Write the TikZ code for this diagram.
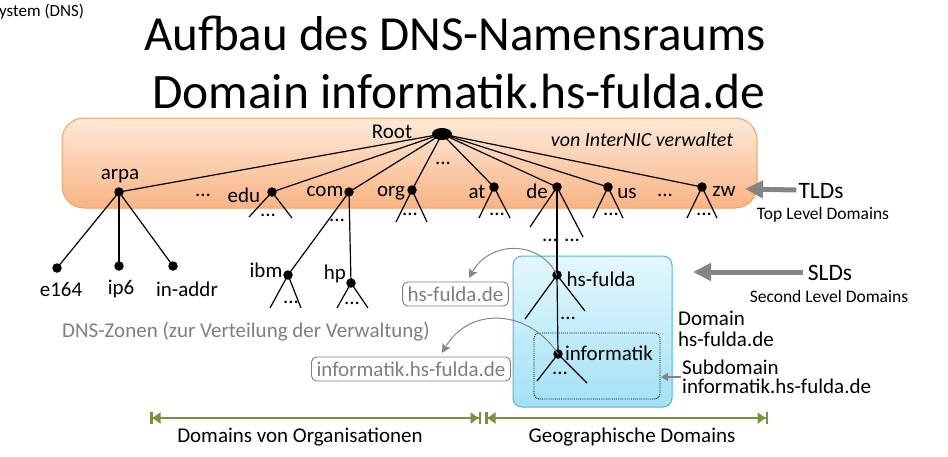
\documentclass[tikz,border=0pt]{standalone}
\usepackage{fontspec}
\setmainfont{Carlito}
\usetikzlibrary{arrows.meta,shapes.geometric}
\definecolor{zoneTop}{HTML}{FDE9D9}
\definecolor{zoneBot}{HTML}{F9B484}
\definecolor{zoneLine}{HTML}{F5A25E}
\definecolor{sldTop}{HTML}{E4F7FD}
\definecolor{sldBot}{HTML}{A2E1F5}
\definecolor{sldLine}{HTML}{4FB8D8}
\definecolor{grayTxt}{HTML}{7F7F7F}
\definecolor{arrGray}{HTML}{858585}
\definecolor{olive}{HTML}{77933C}
\begin{document}
\begin{tikzpicture}[x=1pt,y=-1pt,
  dot/.style={circle,fill=black,inner sep=0pt,minimum size=9.5pt},
  lbl/.style={font=\fontsize{21}{24}\selectfont,inner sep=1pt},
  small/.style={font=\fontsize{17.5}{19}\selectfont,inner sep=1pt},
  edge/.style={line width=1.2pt},
  zonebox/.style={draw=grayTxt,line width=0.9pt,rounded corners=5pt,text=grayTxt,
    font=\fontsize{21}{24}\selectfont,inner xsep=5pt,inner ysep=2pt,minimum height=24pt},
  bigarrow/.style={arrGray,line width=5pt,-{Triangle[width=17pt,length=18pt]}},
  curvarrow/.style={arrGray,line width=1pt,-{Stealth[width=9pt,length=9pt,inset=2pt]}},
  spanarrow/.style={olive,line width=2.5pt,
    {Bar[width=12pt]Triangle[width=11pt,length=8pt]}-{Triangle[width=11pt,length=8pt]Bar[width=12pt]}}]
\useasboundingbox (0,0) rectangle (948,456);
\fill[white] (0,0) rectangle (948,456);

% heading
\node[anchor=west,font=\fontsize{17}{19}\selectfont,inner sep=0pt] (hdr) at (-1,12) {ystem (DNS)};
\node[font=\fontsize{49}{54}\selectfont,inner sep=0pt] (t1) at (455,33) {Aufbau des DNS-Namensraums};
\node[font=\fontsize{49.5}{54}\selectfont,inner sep=0pt] (t2) at (459,92) {Domain informatik.hs-fulda.de};

% zone of the top level domains
\shade[top color=zoneTop,bottom color=zoneBot,draw=zoneLine,line width=1pt,rounded corners=22pt]
  (62,118) rectangle (757,208);
\node[lbl,font=\fontsize{20}{24}\selectfont\itshape] (inter) at (642,140) {von InterNIC verwaltet};

% zone of hs-fulda.de
\shade[top color=sldTop,bottom color=sldBot,draw=sldLine,line width=1pt,rounded corners=9pt]
  (513,256) rectangle (672,407);
\draw[densely dotted,line width=0.9pt,rounded corners=5pt] (534,333) rectangle (660,399);

% root
\node[ellipse,fill=black,minimum width=20pt,minimum height=12pt,inner sep=0pt] (root) at (442,134) {};
\node[lbl] (rootl) at (392,132) {Root};
\node[lbl] (rdots) at (443,163) {...};

% top level domains
\node[dot] (arpa) at (119,192) {};
\node[dot] (edu) at (272,192) {};
\node[dot] (com) at (349,192) {};
\node[dot] (org) at (412,190) {};
\node[dot] (at) at (494,187) {};
\node[dot] (de) at (557,187) {};
\node[dot] (us) at (608,187) {};
\node[dot] (zw) at (702,187) {};
\foreach \t in {arpa,edu,com,org,at,de,us,zw} \draw[edge] (root.center) -- (\t.center);

\node[lbl] (arpal) at (120,176) {arpa};
\node[lbl] (edul) at (244,195) {edu};
\node[lbl] (coml) at (325,191) {com};
\node[lbl] (orgl) at (391,193) {org};
\node[lbl] (atl) at (477,192) {at};
\node[lbl] (del) at (537,191) {de};
\node[lbl] (usl) at (627,193) {us};
\node[lbl] (zwl) at (724,191) {zw};
\node[lbl] (d1) at (203,195) {...};
\node[lbl] (d2) at (665,195) {...};

% subtrees below the top level domains
\coordinate (eduA) at (249,217); \coordinate (eduB) at (292,218);
\coordinate (orgA) at (396,222); \coordinate (orgB) at (427,222);
\coordinate (atA) at (479,218);  \coordinate (atB) at (510,218);
\coordinate (deA) at (530,227);  \coordinate (deB) at (583,237);
\coordinate (usA) at (593,218);  \coordinate (usB) at (623,218);
\coordinate (zwA) at (687,218);  \coordinate (zwB) at (717,218);
\foreach \t in {edu,org,at,de,us,zw} {
  \draw[edge] (\t.center) -- (\t A);
  \draw[edge] (\t.center) -- (\t B);
}
\node[lbl] (edud) at (268,215) {...};
\node[lbl] (comd) at (337,220) {...};
\node[lbl] (orgd) at (410,214) {...};
\node[lbl] (atd) at (497,214) {...};
\node[lbl] (usd) at (611,214) {...};
\node[lbl] (zwd) at (704,214) {...};
\node[lbl] (ded1) at (550,240) {...};
\node[lbl] (ded2) at (572,240) {...};

% below arpa
\node[dot] (e164) at (57,268) {};
\node[dot] (ip6) at (119,266) {};
\node[dot] (inaddr) at (173,266) {};
\foreach \t in {e164,ip6,inaddr} \draw[edge] (arpa.center) -- (\t.center);
\node[lbl] (e164l) at (61,289) {e164};
\node[lbl] (ip6l) at (121,289) {ip6};
\node[lbl] (inaddrl) at (187,289) {in-addr};

% below com
\node[dot] (ibm) at (288,275) {};
\node[dot] (hp) at (351,283) {};
\draw[edge] (com.center) -- (ibm.center);
\draw[edge] (com.center) -- (hp.center);
\node[lbl] (ibml) at (266,270) {ibm};
\node[lbl] (hpl) at (335,274) {hp};
\coordinate (ibmA) at (270,308); \coordinate (ibmB) at (301,308);
\coordinate (hpA) at (337,308);  \coordinate (hpB) at (368,308);
\foreach \t in {ibm,hp} {
  \draw[edge] (\t.center) -- (\t A);
  \draw[edge] (\t.center) -- (\t B);
}
\node[lbl] (ibmd) at (291,302) {...};
\node[lbl] (hpd) at (352,303) {...};

% hs-fulda and informatik
\node[dot] (hsf) at (557,275) {};
\node[dot] (inf) at (558,354) {};
\draw[edge] (de.center) -- (hsf.center);
\draw[edge] (hsf.center) -- (inf.center);
\coordinate (hsfA) at (525,319); \coordinate (hsfB) at (585,311);
\coordinate (infA) at (537,381); \coordinate (infB) at (587,383);
\foreach \t in {hsf,inf} {
  \draw[edge] (\t.center) -- (\t A);
  \draw[edge] (\t.center) -- (\t B);
}
\node[lbl] (hsfl) at (601,279) {hs-fulda};
\node[lbl] (infl) at (609,353) {informatik};
\node[lbl] (hsfd) at (568,318) {...};
\node[lbl] (infd) at (560,373) {...};

% DNS zones
\node[lbl,text=grayTxt] (zones) at (246,332) {DNS-Zonen (zur Verteilung der Verwaltung)};
\node[zonebox] (zhs) at (455.5,294) {hs-fulda.de};
\node[zonebox] (zinf) at (411,369) {informatik.hs-fulda.de};
\coordinate (tipHs) at (469,278);
\coordinate (tipInf) at (442,353);
\draw[curvarrow] (hsf.center) .. controls (540,240) and (490,240) .. (tipHs);
\draw[curvarrow] (inf.center) .. controls (530,310) and (470,305) .. (tipInf);

% explanations on the right
\node[lbl,font=\fontsize{23.5}{26}\selectfont] (tld) at (821,191) {TLDs};
\node[small] (tldx) at (823,215) {Top Level Domains};
\coordinate (tldTip) at (745,189);
\draw[bigarrow] (tld.west) ++(-1,-1) -- (tldTip);

\node[lbl,font=\fontsize{23.5}{26}\selectfont] (sld) at (830,273) {SLDs};
\node[small] (sldx) at (829,296) {Second Level Domains};
\coordinate (sldTip) at (693,272);
\draw[bigarrow] (sld.west) ++(-4,-1) -- (sldTip);

\node[lbl,font=\fontsize{21}{21}\selectfont,align=left,anchor=west] (dom) at (677,329) {Domain\\hs-fulda.de};
\node[lbl,font=\fontsize{21}{19}\selectfont,align=left,anchor=west] (sub) at (681,377) {Subdomain\\informatik.hs-fulda.de};
\coordinate (subTip) at (661,377);
\draw[arrGray,line width=1.5pt,-{Triangle[width=8pt,length=7pt]}] (sub.west) -- (subTip);

% spans at the bottom
\coordinate (r1a) at (150,418); \coordinate (r1b) at (481,418);
\coordinate (r2a) at (485,418); \coordinate (r2b) at (768,418);
\draw[spanarrow] (r1a) -- (r1b);
\draw[spanarrow] (r2a) -- (r2b);
\node[lbl] (orgs) at (300,437) {Domains von Organisationen};
\node[lbl] (geo) at (632,437) {Geographische Domains};
\end{tikzpicture}
\end{document}
